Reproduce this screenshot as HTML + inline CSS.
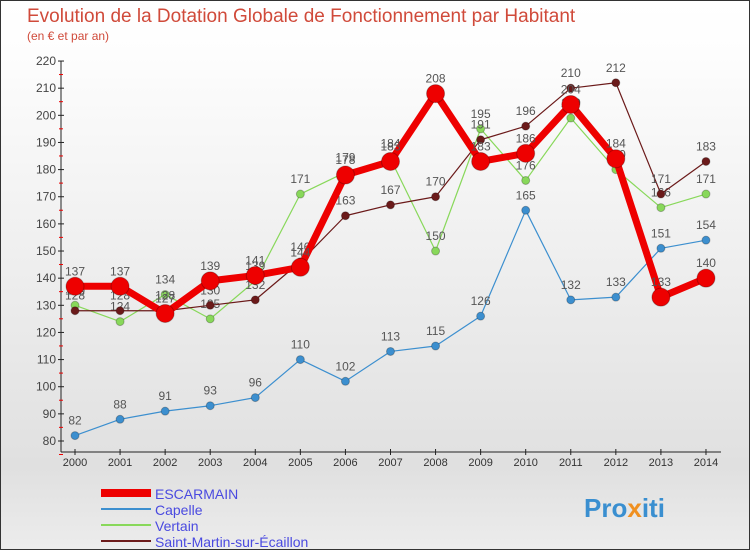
<!DOCTYPE html>
<html><head><meta charset="utf-8"><style>
body{margin:0;width:750px;height:550px;overflow:hidden;font-family:"Liberation Sans",sans-serif}
#wrap{position:relative;width:748px;height:548px;border:1px solid #333;background:linear-gradient(#fff,#fdfdfd 10%,#e0e0e0 85%,#ececec)}
</style></head><body>
<div id="wrap">
<svg id="chart" width="748" height="548" font-family="Liberation Sans, sans-serif">
<text x="26" y="21" font-size="19" fill="#d04a3a">Evolution de la Dotation Globale de Fonctionnement par Habitant</text>
<text x="26" y="39" font-size="12" fill="#d04a3a">(en € et par an)</text>
<g id="axes"></g><g id="series"></g><g id="legend"></g>
<text x="583" y="516" font-size="26" font-weight="bold" fill="#3a8fd0">Pro<tspan fill="#f09020">x</tspan>iti</text>
</svg></div>
<script>
const years=[2000,2001,2002,2003,2004,2005,2006,2007,2008,2009,2010,2011,2012,2013,2014];
const escarmain=[137,137,127,139,141,144,178,183,208,183,186,204,184,133,140];
const capelle=[82,88,91,93,96,110,102,113,115,126,165,132,133,151,154];
const vertain=[130,124,134,125,139,171,179,184,150,195,176,199,180,166,171];
const saintMartin=[128,128,128,130,132,146,163,167,170,191,196,210,212,171,183];
const yTicks=[80,90,100,110,120,130,140,150,160,170,180,190,200,210,220];
const NS='http://www.w3.org/2000/svg';
function x(i){return 74+i*45.07;}
function y(v){return 440-(v-80)*2.714;}
function mk(t,a,p){const e=document.createElementNS(NS,t);for(const k in a)e.setAttribute(k,a[k]);p.appendChild(e);return e;}
const ax=document.getElementById('axes');
const yl=mk('line',{x1:60,y1:y(220),x2:60,y2:451,stroke:'#222'},ax);


const xl=mk('line',{x1:60,y1:451,x2:720,y2:451,stroke:'#222'},ax);


yTicks.forEach(v=>{
 mk('line',{x1:57,y1:y(v),x2:63,y2:y(v),stroke:'#222'},ax);
 mk('line',{x1:58,y1:y(v)+13.5,x2:62,y2:y(v)+13.5,stroke:'#e00'},ax);
 const t=mk('text',{x:55,y:y(v)+4,'font-size':12,fill:'#444','text-anchor':'end'},ax);t.textContent=v;
 
 
});
years.forEach((yr,i)=>{
 mk('line',{x1:x(i),y1:448,x2:x(i),y2:454,stroke:'#222'},ax);
 const t=mk('text',{x:x(i),y:465,'font-size':11,fill:'#333','text-anchor':'middle'},ax);t.textContent=yr;
 
 
});
const S=document.getElementById('series');
function draw(data,color,w,r,name){
 const g=mk('g',{},S);
 
 
 const pl=mk('polyline',{points:data.map((v,i)=>x(i)+','+y(v)).join(' '),fill:'none',stroke:color,'stroke-width':w,'stroke-linejoin':'round'},g);
 
 
 data.forEach((v,i)=>{
  const c=mk('circle',{cx:x(i),cy:y(v),r:r,fill:color,stroke:'rgba(0,0,0,0.25)','stroke-width':1},g);
  
  
  const t=mk('text',{x:x(i),y:y(v)-11,'font-size':12,fill:'#555','text-anchor':'middle'},g);t.textContent=v;
  
  
 });
}
draw(capelle,'#3c8fcf',1.2,4,'capelle');
draw(vertain,'#88d85a',1.2,4,'vertain');
draw(saintMartin,'#6b1a1a',1.2,4,'saint-martin');
draw(escarmain,'#ee0000',7,9,'escarmain');
const L=document.getElementById('legend');
const items=[['ESCARMAIN','#ee0000',8],['Capelle','#3c8fcf',2],['Vertain','#88d85a',2],['Saint-Martin-sur-Écaillon','#6b1a1a',2]];
items.forEach((it,k)=>{
 const yy=492+k*16;
 const g=mk('g',{},L);
 
 
 mk('line',{x1:100,y1:yy,x2:150,y2:yy,stroke:it[1],'stroke-width':it[2]},g);
 const t=mk('text',{x:154,y:yy+6,'font-size':14,fill:'#4a4ae0'},g);t.textContent=it[0];
});
</script>
</body></html>
